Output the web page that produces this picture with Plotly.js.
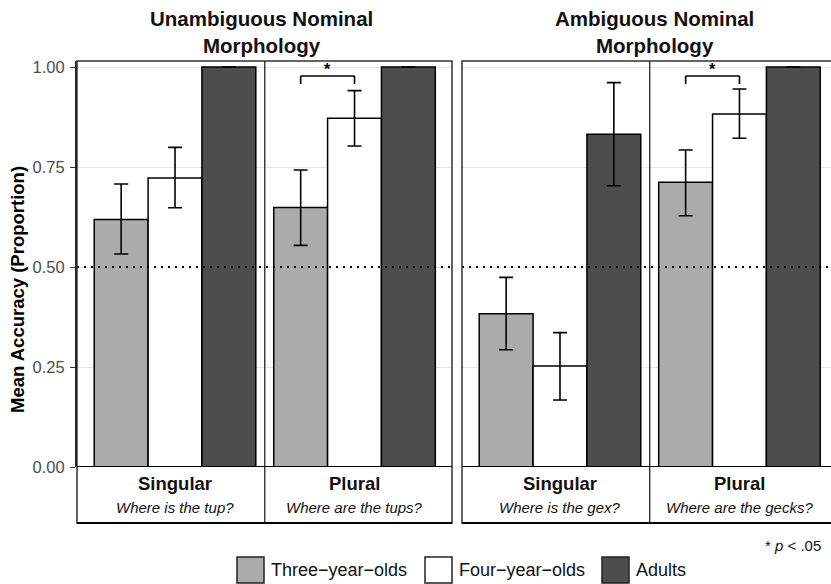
<!DOCTYPE html>
<html>
<head>
<meta charset="utf-8">
<script src="https://cdn.plot.ly/plotly-3.0.1.min.js"></script>
<style>html,body{margin:0;padding:0;background:#fff;}#chart{width:831px;height:584px;}</style>
</head>
<body>
<div id="chart"></div>
<script>
// ---- data ----
const conditions = ["Singular", "Plural"];
const groups = ["Three\u2212year\u2212olds", "Four\u2212year\u2212olds", "Adults"];
const panelTitles = ["Unambiguous Nominal<br>Morphology", "Ambiguous Nominal<br>Morphology"];
const unambQuestions = ["Where is the tup?", "Where are the tups?"];
const ambQuestions = ["Where is the gex?", "Where are the gecks?"];

// Unambiguous panel: means and CI bounds [Singular, Plural]
const unambThreeMean = [0.619, 0.649];
const unambThreeHigh = [0.7075, 0.7425];
const unambThreeLow  = [0.5325, 0.554];
const unambFourMean  = [0.7225, 0.872];
const unambFourHigh  = [0.799, 0.941];
const unambFourLow   = [0.648, 0.8025];
const unambAdultMean = [1.00, 1.00];
const unambAdultHigh = [1.00, 1.00];
const unambAdultLow  = [1.00, 1.00];

// Ambiguous panel
const ambThreeMean = [0.383, 0.712];
const ambThreeHigh = [0.474, 0.7925];
const ambThreeLow  = [0.293, 0.628];
const ambFourMean  = [0.2525, 0.8825];
const ambFourHigh  = [0.336, 0.945];
const ambFourLow   = [0.1675, 0.8217];
const ambAdultMean = [0.832, 1.00];
const ambAdultHigh = [0.961, 1.00];
const ambAdultLow  = [0.703, 1.00];

const chanceLevel = 0.5;
const yTicks = [0, 0.25, 0.5, 0.75, 1.0];
// significance: panel index, condition index, group indices compared
const sigPanels = [0, 1];
const sigCondition = [1, 1];
const sigFrom = [0, 0];
const sigTo = [1, 1];
const sigLabel = "*";

// ---- styling ----
const fills = ["#ababab", "#ffffff", "#4d4d4d"];
const FONT = "'Liberation Sans', Arial, Helvetica, sans-serif";
const W = 831, H = 584, ML = 77, MR = 0, MT = 61, MB = 117;
const PW = W - ML - MR, PH = H - MT - MB;
const px = x => (x - ML) / PW;            // pixel -> paper x
const py = y => (H - MB - y) / PH;        // pixel -> paper y

const panelData = [
  {means: [unambThreeMean, unambFourMean, unambAdultMean],
   highs: [unambThreeHigh, unambFourHigh, unambAdultHigh],
   lows:  [unambThreeLow,  unambFourLow,  unambAdultLow], questions: unambQuestions},
  {means: [ambThreeMean, ambFourMean, ambAdultMean],
   highs: [ambThreeHigh, ambFourHigh, ambAdultHigh],
   lows:  [ambThreeLow,  ambFourLow,  ambAdultLow], questions: ambQuestions}
];

const traces = [];
panelData.forEach((p, pi) => {
  const xa = pi === 0 ? "x" : "x2";
  groups.forEach((g, gi) => {
    traces.push({
      type: "bar", x: conditions, y: p.means[gi], name: g,
      xaxis: xa, yaxis: "y", showlegend: false,
      marker: {color: fills[gi], line: {color: "#000", width: 1.5}},
      error_y: {type: "data", symmetric: false,
        array: p.highs[gi].map((h, i) => h - p.means[gi][i]),
        arrayminus: p.means[gi].map((m, i) => m - p.lows[gi][i]),
        color: "#000", thickness: 1.6, width: 7},
      hoverinfo: "skip"
    });
  });
});

const xr0 = -0.546;
const layout = {
  width: W, height: H,
  margin: {l: ML, r: MR, t: MT, b: MB, pad: 0},
  paper_bgcolor: "#fff", plot_bgcolor: "rgba(0,0,0,0)",
  font: {family: FONT, color: "#000"},
  barmode: "group", bargap: 0.1, bargroupgap: 0,
  showlegend: false,
  xaxis: {domain: [0, 375 / PW], range: [xr0, 1.543], type: "category",
    categoryorder: "array", categoryarray: conditions,
    showticklabels: false, showgrid: false, zeroline: false, showline: false, ticks: "", fixedrange: true},
  xaxis2: {domain: [385 / PW, 1], range: [xr0, 1.51], type: "category", anchor: "y",
    categoryorder: "array", categoryarray: conditions,
    showticklabels: false, showgrid: false, zeroline: false, showline: false, ticks: "", fixedrange: true},
  yaxis: {range: [0, 1.015], tickvals: yTicks, tickformat: ".2f",
    showgrid: true, gridcolor: "#e6e6e6", gridwidth: 1, zeroline: false,
    showline: true, linecolor: "#222", linewidth: 2,
    ticks: "outside", ticklen: 5, tickwidth: 1, tickcolor: "#333",
    ticklabelstandoff: 2,
    tickfont: {size: 16.5, color: "#4d4d4d", family: FONT}, fixedrange: true},
  shapes: [], annotations: []
};

const stripBottom = py(523);
const panelX = [[0, 375 / PW], [385 / PW, 1.02]];
panelData.forEach((p, pi) => {
  const xa = pi === 0 ? "x" : "x2";
  const [x0, x1] = panelX[pi];
  // chance line
  layout.shapes.push({type: "line", xref: "paper", yref: "y", x0: x0, x1: Math.min(x1, 1), y0: chanceLevel, y1: chanceLevel,
    line: {color: "#000", width: 2, dash: "2px,5px"}, layer: "above"});
  // panel outline incl. strip
  layout.shapes.push({type: "rect", xref: "paper", yref: "paper", x0: x0, x1: x1, y0: stripBottom, y1: 1,
    line: {color: "#333", width: 1.5}, fillcolor: "rgba(0,0,0,0)", layer: "above"});
  // x-axis line at zero
  layout.shapes.push({type: "line", xref: "paper", yref: "y", x0: x0, x1: x1, y0: 0, y1: 0,
    line: {color: "#000", width: 2}, layer: "above"});
  // strip bottom
  layout.shapes.push({type: "line", xref: "paper", yref: "paper", x0: x0, x1: x1, y0: stripBottom, y1: stripBottom,
    line: {color: "#000", width: 2.2}, layer: "above"});
  // divider between conditions
  layout.shapes.push({type: "line", xref: xa, yref: "paper", x0: 0.5, x1: 0.5, y0: stripBottom, y1: 1,
    line: {color: "#222", width: 1.3}, layer: "above"});
  // strip labels
  conditions.forEach((c, ci) => {
    layout.annotations.push({xref: xa, yref: "paper", x: ci, y: py(483), text: "<b>" + c + "</b>",
      showarrow: false, xanchor: "center", yanchor: "middle", font: {size: 18.5, family: FONT, color: "#111"}});
    layout.annotations.push({xref: xa, yref: "paper", x: ci, y: py(507), text: "<i>" + p.questions[ci] + "</i>",
      showarrow: false, xanchor: "center", yanchor: "middle", font: {size: 15, family: FONT, color: "#111"}});
  });
  // panel title
  layout.annotations.push({xref: "paper", yref: "paper", x: px(pi === 0 ? 261 : 654), y: py(32),
    text: "<b>" + panelTitles[pi] + "</b>", showarrow: false, xanchor: "center", yanchor: "middle",
    font: {size: 20.5, family: FONT, color: "#111"}});
});

// significance brackets
const gw = 0.3; // dodge width of each bar (0.9 / 3)
sigPanels.forEach((pi, k) => {
  const xa = pi === 0 ? "x" : "x2";
  const c = sigCondition[k];
  const xa0 = c + (sigFrom[k] - 1) * gw, xa1 = c + (sigTo[k] - 1) * gw;
  const top = 0.9775, leg = 0.9575;
  const ln = {color: "#000", width: 1.6};
  layout.shapes.push({type: "line", xref: xa, yref: "y", x0: xa0, x1: xa1, y0: top, y1: top, line: ln});
  layout.shapes.push({type: "line", xref: xa, yref: "y", x0: xa0, x1: xa0, y0: leg, y1: top, line: ln});
  layout.shapes.push({type: "line", xref: xa, yref: "y", x0: xa1, x1: xa1, y0: leg, y1: top, line: ln});
  layout.annotations.push({xref: xa, yref: "y", x: (xa0 + xa1) / 2, y: 0.993, text: "<b>" + sigLabel + "</b>",
    showarrow: false, xanchor: "center", yanchor: "middle", font: {size: 16, family: FONT, color: "#000"}});
});

// y-axis title
layout.annotations.push({xref: "paper", yref: "paper", x: px(17), y: py(290), textangle: -90,
  text: "<b>Mean Accuracy (Proportion)</b>", showarrow: false, xanchor: "center", yanchor: "middle",
  font: {size: 18.5, family: FONT, color: "#000"}});

// p-value note
layout.annotations.push({xref: "paper", yref: "paper", x: px(823), y: py(545), text: "* <i>p</i> < .05",
  showarrow: false, xanchor: "right", yanchor: "middle", font: {size: 15, family: FONT, color: "#111"}});

// legend (manual, large swatches)
const legBoxX = [237, 425, 602];
legBoxX.forEach((bx, gi) => {
  layout.shapes.push({type: "rect", xref: "paper", yref: "paper", x0: px(bx), x1: px(bx + 27), y0: py(583), y1: py(557),
    fillcolor: fills[gi], line: {color: "#222", width: 1.5}});
  layout.annotations.push({xref: "paper", yref: "paper", x: px(bx + 32), y: py(570), text: groups[gi],
    showarrow: false, xanchor: "left", yanchor: "middle", font: {size: 18, family: FONT, color: "#111"}});
});

Plotly.newPlot("chart", traces, layout, {displayModeBar: false, staticPlot: true});
</script>
</body>
</html>
